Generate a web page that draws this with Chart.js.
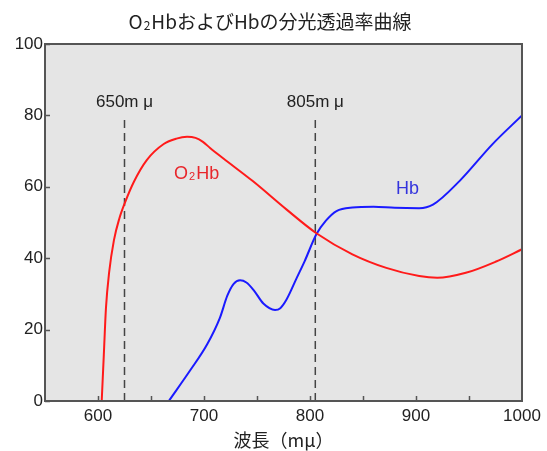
<!DOCTYPE html>
<html>
<head>
<meta charset="utf-8">
<script src="https://cdn.jsdelivr.net/npm/chart.js@4.4.1/dist/chart.umd.min.js"></script>
<style>
  html, body { margin: 0; padding: 0; background: #fff; }
  #wrap { width: 547px; height: 451px; }
</style>
</head>
<body>
<div id="wrap"><canvas id="chart" width="547" height="451"></canvas></div>
<script>
// 波長 (mμ) と透過率 (%)
const o2hbWave = [603.5, 605.5, 607.5, 610.5, 615, 620, 626, 634, 646, 662, 674, 684, 692, 699, 706, 718, 746, 778, 806, 840, 872, 903, 920, 947, 975, 1000];
const o2hbValue = [0, 13, 26, 36, 45, 51, 56, 61.5, 67.5, 72, 73.5, 74, 73.7, 72.6, 70.8, 68, 61.6, 53.6, 47, 41.1, 37.3, 35, 34.5, 35.9, 39, 42.5];
const hbWave = [666.8, 687, 703, 715, 722, 728, 734, 740, 747, 756, 767, 772, 778, 787.5, 795, 806, 815, 825, 840, 860, 880, 903, 916, 941, 972, 1000];
const hbValue = [0, 8.6, 15.9, 23.3, 29.5, 32.8, 33.8, 33.2, 31, 27.3, 25.5, 26, 28.5, 34.5, 39.2, 46.7, 50.5, 53.2, 54.2, 54.4, 54.1, 54, 55, 61.6, 71.9, 80];
// 測定波長のマーク
const markWave = [625, 805];
const markLabels = ["650m μ", "805m μ"];
const markTop = 79.3;
// 目盛り
const xTicks = [600, 700, 800, 900, 1000];
const xMinor = [600, 650, 700, 750, 800, 850, 900, 950];
const yTicks = [0, 20, 40, 60, 80, 100];

const toPoints = (xs, ys) => xs.map((x, i) => ({ x: x, y: ys[i] }));

const markSets = markWave.map(w => ({
      data: [{ x: w, y: 0 }, { x: w, y: markTop }],
      borderColor: "#444",
      borderWidth: 1.5,
      borderDash: [8, 5],
      pointRadius: 0,
      tension: 0,
}));

// "O2Hb" の 2 を小さく書く
const drawO2 = (ctx, rest, cx, cy, size, family) => {
      const big = size + "px " + family;
      const small = Math.round(size * 0.62) + "px " + family;
      ctx.font = big;
      const wO = ctx.measureText("O").width;
      const wR = ctx.measureText(rest).width;
      ctx.font = small;
      const w2 = ctx.measureText("2").width + 2;
      let x = cx - (wO + w2 + wR) / 2;
      ctx.textAlign = "left";
      ctx.font = big;
      ctx.fillText("O", x, cy);
      ctx.font = small;
      ctx.fillText("2", x + wO + 1, cy + size * 0.18);
      ctx.font = big;
      ctx.fillText(rest, x + wO + w2, cy);
};

// 背景・枠・内向きの目盛り・注記
const framePlugin = {
      id: "frame",
      beforeDatasetsDraw(chart) {
            const { ctx, chartArea: a } = chart;
            ctx.save();
            ctx.fillStyle = "#e5e5e5";
            ctx.fillRect(a.left, a.top, a.right - a.left, a.bottom - a.top);
            ctx.restore();
      },
      afterDatasetsDraw(chart) {
            const { ctx, chartArea: a, scales } = chart;
            ctx.save();
            ctx.strokeStyle = "#555";
            ctx.lineWidth = 1.5;
            ctx.beginPath();
            for (const v of xMinor) {
                  const px = Math.round(scales.x.getPixelForValue(v)) + 0.5;
                  ctx.moveTo(px, a.bottom);
                  ctx.lineTo(px, a.bottom - 5);
            }
            for (const v of yTicks) {
                  const py = Math.round(scales.y.getPixelForValue(v)) + 0.5;
                  ctx.moveTo(a.left, py);
                  ctx.lineTo(a.left + 5, py);
            }
            ctx.stroke();
            ctx.lineWidth = 2;
            ctx.strokeRect(a.left, a.top, a.right - a.left, a.bottom - a.top);

            ctx.textAlign = "center";
            ctx.textBaseline = "middle";
            ctx.fillStyle = "#222";
            ctx.font = "17px 'Liberation Sans'";
            markWave.forEach((w, i) => {
                  ctx.fillText(markLabels[i], scales.x.getPixelForValue(w), scales.y.getPixelForValue(83.8));
            });
            ctx.fillStyle = "#e8262b";
            drawO2(ctx, "Hb", scales.x.getPixelForValue(693), scales.y.getPixelForValue(63.6), 18, "'Liberation Sans'");
            ctx.fillStyle = "#3434dd";
            ctx.textAlign = "center";
            ctx.font = "18px 'Liberation Sans'";
            ctx.fillText("Hb", scales.x.getPixelForValue(892), scales.y.getPixelForValue(59.4));

            ctx.fillStyle = "#222";
            drawO2(ctx, "HbおよびHbの分光透過率曲線", 270, 22, 19, "'Noto Sans CJK JP'");
            ctx.restore();
      },
};

new Chart(document.getElementById("chart"), {
      type: "line",
      plugins: [framePlugin],
      data: {
            datasets: [
                  {
                        label: "O2Hb",
                        data: toPoints(o2hbWave, o2hbValue),
                        borderColor: "#ff1a1a",
                        borderWidth: 2,
                        pointRadius: 0,
                        cubicInterpolationMode: "monotone",
                  },
                  {
                        label: "Hb",
                        data: toPoints(hbWave, hbValue),
                        borderColor: "#1a1aff",
                        borderWidth: 2,
                        pointRadius: 0,
                        cubicInterpolationMode: "monotone",
                  },
                  ...markSets,
            ],
      },
      options: {
            responsive: false,
            animation: false,
            layout: { padding: { left: 0, right: 25, top: 44, bottom: 0 } },
            plugins: {
                  legend: { display: false },
                  tooltip: { enabled: false },
                  title: { display: false },
            },
            scales: {
                  x: {
                        type: "linear",
                        min: 550,
                        max: 1000,
                        afterBuildTicks: (s) => { s.ticks = xTicks.map(v => ({ value: v })); },
                        afterFit: (s) => { s.height = 50; },
                        grid: { display: false, drawTicks: false },
                        border: { display: false },
                        ticks: {
                              color: "#222",
                              padding: 5,
                              maxRotation: 0,
                              callback: (v) => String(v),
                              font: { family: "'Liberation Sans'", size: 17 },
                        },
                        title: {
                              display: true,
                              text: "波長（mμ）",
                              color: "#222",
                              padding: { top: 0, bottom: 0 },
                              font: { family: "'Noto Sans CJK JP'", size: 18 },
                        },
                  },
                  y: {
                        min: 0,
                        max: 100,
                        afterBuildTicks: (s) => { s.ticks = yTicks.map(v => ({ value: v })); },
                        afterFit: (s) => { s.width = 45; },
                        grid: { display: false, drawTicks: false },
                        border: { display: false },
                        ticks: {
                              color: "#222",
                              padding: 2,
                              font: { family: "'Liberation Sans'", size: 17 },
                        },
                  },
            },
      },
});
</script>
</body>
</html>
